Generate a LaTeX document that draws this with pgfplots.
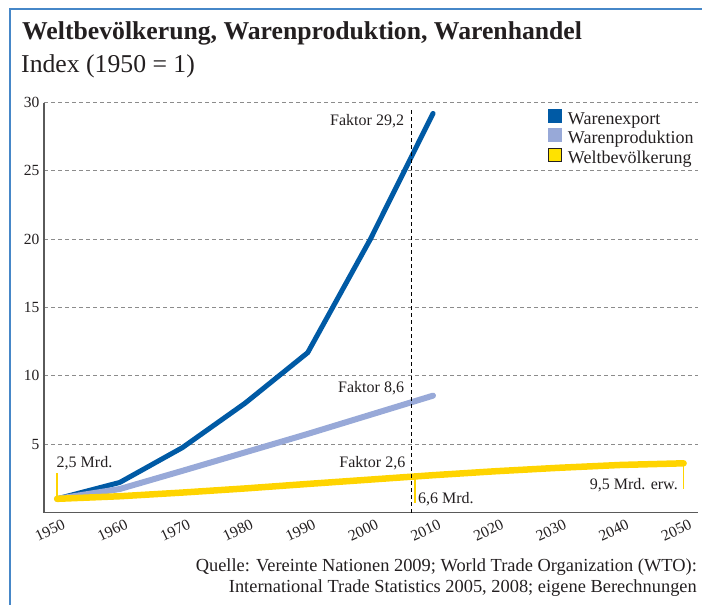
\documentclass[border=0pt]{standalone}
\usepackage{fontspec}
\setmainfont{Liberation Serif}
\usepackage{graphicx}
\usepackage{pgfplots}
\pgfplotsset{compat=1.18}
\definecolor{wexp}{RGB}{0,90,165}
\definecolor{wprod}{RGB}{152,169,216}
\definecolor{wpop}{RGB}{255,212,0}
\definecolor{legpop}{RGB}{255,226,0}
\definecolor{frameblue}{RGB}{70,135,200}
\definecolor{txt}{RGB}{35,31,32}
\definecolor{gridgray}{RGB}{140,140,140}
\definecolor{axgray}{RGB}{90,90,90}

\pgfplotstableread{
year val
1950 1.0
1960 2.2
1970 4.75
1980 8.0
1990 11.7
2000 20.0
2010 29.2
}\exportdata
\pgfplotstableread{
year val
1950 1.0
1960 1.72
1970 3.05
1980 4.4
1990 5.75
2000 7.15
2010 8.55
}\proddata
\pgfplotstableread{
year val
1950 1.0
1960 1.19
1970 1.46
1980 1.76
1990 2.09
2000 2.41
2010 2.73
2020 3.02
2030 3.27
2040 3.48
2050 3.60
}\popdata

\begin{document}
\begin{tikzpicture}
\useasboundingbox (0,0) rectangle (702bp,-605bp);
\draw[frameblue, line width=2bp] (10bp,-605bp) -- (10bp,-8.5bp) -- (702bp,-8.5bp);
\node[anchor=base west, inner sep=0, text=txt, font=\fontsize{25.7bp}{28bp}\selectfont\bfseries] at (22bp,-39.5bp) {Weltbevölkerung, Warenproduktion, Warenhandel};
\node[anchor=base west, inner sep=0, text=txt, font=\fontsize{25.7bp}{28bp}\selectfont] at (21bp,-72bp) {Index (1950 = 1)};

\begin{axis}[
  at={(44bp,-512.5bp)}, anchor=south west,
  scale only axis, width=654bp, height=410bp,
  xmin=1947.9, xmax=2052.3, ymin=0, ymax=30,
  axis x line*=bottom, axis y line*=left,
  axis line style={draw=axgray, line width=1.3bp},
  xtick={1950,1960,...,2050}, ytick={5,10,...,30},
  major tick length=0pt,
  ymajorgrids,
  grid style={draw=gridgray, line width=0.8bp, dash pattern=on 4bp off 3bp},
  /pgf/number format/assume math mode=true,
  /pgf/number format/1000 sep={},
  tick label style={font=\fontsize{15.5bp}{17bp}\selectfont, text=txt},
  xticklabel style={rotate=25, anchor=east, xshift=5bp, yshift=-13bp},
  yticklabel style={xshift=-1bp},
  legend style={draw=none, fill=none, at={(0.7706,0.985)}, anchor=north west,
    font=\fontsize{18bp}{19bp}\selectfont, text=txt, inner sep=0pt,
    row sep=-0.5bp, column sep=6bp,
    nodes={inner sep=0pt, text height=12.5bp, text depth=4.5bp}},
  legend cell align=left,
  legend image code/.code={\draw[#1, line width=0.8bp] (0bp,-2bp) rectangle (13bp,11bp);},
  clip=false,
]
\addplot[wexp, line width=5bp, line cap=round, line join=round, forget plot] table[x=year,y=val] {\exportdata};
\addplot[wprod, line width=6bp, line cap=round, line join=round, forget plot] table[x=year,y=val] {\proddata};
\addplot[wpop, line width=6.5bp, line cap=round, line join=round, forget plot] table[x=year,y=val] {\popdata};

\addlegendimage{draw=wexp, fill=wexp}
\addlegendentry{Warenexport}
\addlegendimage{draw=wprod, fill=wprod}
\addlegendentry{Warenproduktion}
\addlegendimage{draw=txt, fill=legpop}
\addlegendentry{Weltbevölkerung}

\draw[black, line width=1.3bp, dash pattern=on 4bp off 3bp] (axis cs:2006.6,0) -- (axis cs:2006.6,29.6);

\draw[wpop, line width=1.6bp] (axis cs:1950,1.0) -- (axis cs:1950,2.9);
\draw[wpop, line width=1.6bp] (axis cs:2007.1,2.62) -- (axis cs:2007.1,0.7);
\draw[wpop, line width=1.6bp] (axis cs:2050,3.6) -- (axis cs:2050,1.72);

\begin{scope}[every node/.style={inner sep=0pt, text=txt, font=\fontsize{16bp}{18bp}\selectfont}]
\node[anchor=east] at (axis cs:2005.4,28.6) {Faktor 29,2};
\node[anchor=east] at (axis cs:2005.4,9.1) {Faktor 8,6};
\node[anchor=east] at (axis cs:2005.6,3.6) {Faktor 2,6};
\node[anchor=west] at (axis cs:1949.9,3.6) {2,5 Mrd.};
\node[anchor=west] at (axis cs:2007.6,1.0) {6,6 Mrd.};
\node[anchor=east] at (axis cs:2049.1,2.0) {9,5 Mrd. erw.};
\end{scope}
\end{axis}

\node[anchor=base east, inner sep=0, text=txt, font=\fontsize{18.4bp}{20bp}\selectfont] at (697bp,-571bp) {Quelle: Vereinte Nationen 2009; World Trade Organization (WTO):};
\node[anchor=base east, inner sep=0, text=txt, font=\fontsize{18.4bp}{20bp}\selectfont] at (697bp,-592bp) {International Trade Statistics 2005, 2008; eigene Berechnungen};
\end{tikzpicture}
\end{document}
